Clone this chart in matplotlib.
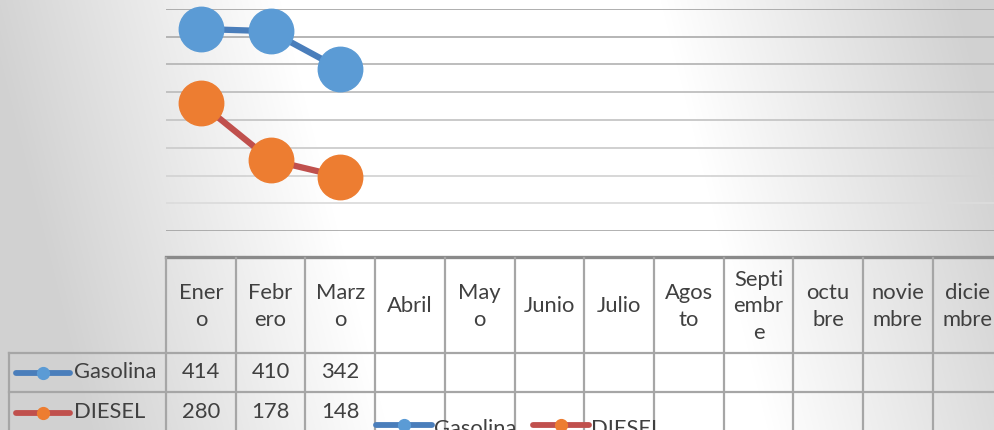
import numpy as np
import matplotlib
matplotlib.use("Agg")
import matplotlib.pyplot as plt

# ---------------- data ----------------
month_labels = ["Ener\no", "Febr\nero", "Marz\no", "Abril", "May\no", "Junio",
                "Julio", "Agos\nto", "Septi\nembr\ne", "octu\nbre", "novie\nmbre", "dicie\nmbre"]
series_names = ["Gasolina", "DIESEL"]
gasolina = [414, 410, 342]
diesel = [280, 178, 148]
y_ticks = [50, 100, 150, 200, 250, 300, 350, 400, 450]

W, H = 994, 430
DPI = 100
plt.rcParams['font.family'] = ['Lato', 'DejaVu Sans']
TXT = '#404040'
FS = 15.8

fig = plt.figure(figsize=(W / DPI, H / DPI), dpi=DPI)

# ---------------- background gradient ----------------
bg = fig.add_axes([0, 0, 1, 1], zorder=-5)
yy, xx = np.mgrid[0:H, 0:W]
cx = 470 + 0.25 * yy
dist = np.clip((np.abs(xx - cx) - 190) / 300.0, 0, 1)
val = 1 - 0.18 * dist
img = np.dstack([val, val, val])
bg.imshow(img, extent=(0, W, H, 0), aspect='auto', interpolation='bilinear')
bg.set_xlim(0, W)
bg.set_ylim(H, 0)
bg.axis('off')

# ---------------- geometry (pixels) ----------------
x0 = 166.0
colw = 69.7
n = len(month_labels)
plot_top, plot_bot = 9.0, 231.0

ax = fig.add_axes([x0 / W, (H - plot_bot) / H, colw * n / W, (plot_bot - plot_top) / H])
ax.patch.set_alpha(0)
ax.set_xlim(-0.5, n - 0.5)
ax.set_ylim(y_ticks[0], y_ticks[-1])
ax.set_yticks(y_ticks)
ax.set_xticks([])
ax.tick_params(left=False, labelleft=False)
for s in ax.spines.values():
    s.set_visible(False)
ax.grid(axis='y', linewidth=1.3)
glines = ax.get_ygridlines()
cols = np.linspace(0.89, 0.66, len(glines))
for gl, c in zip(glines, cols):
    gl.set_color((c, c, c))
glines[0].set_color('#9a9a9a')
glines[0].set_linewidth(1.8)

xs = np.arange(len(gasolina))
ax.plot(xs, gasolina, color='#4a7ebb', lw=4.5, marker='o', ms=32,
        mfc='#5b9bd5', mec='#5b9bd5', clip_on=False, zorder=3)
ax.plot(np.arange(len(diesel)), diesel, color='#c0504d', lw=4.5, marker='o', ms=32,
        mfc='#ed7d31', mec='#ed7d31', clip_on=False, zorder=3)

# ---------------- data table (overlay in pixel coords) ----------------
ov = fig.add_axes([0, 0, 1, 1], zorder=2)
ov.patch.set_alpha(0)
ov.set_xlim(0, W)
ov.set_ylim(H, 0)
ov.axis('off')

LC = '#a6a6a6'
hdr_top, hdr_bot, row1_bot, row2_bot = 258.0, 353.0, 392.0, 440.0
lab_left = 9.0
x_right = x0 + colw * n

# legend box (semi-transparent) drawn before the grid lines
ov.add_patch(plt.Rectangle((375, 405), 295, 40, facecolor='white', alpha=0.45,
                           edgecolor='none', zorder=1))

ov.plot([x0, x_right], [hdr_top - 1, hdr_top - 1], color='#8a8a8a', lw=2.4, zorder=2)
for yl in (hdr_bot, row1_bot):
    ov.plot([lab_left, x_right], [yl, yl], color=LC, lw=1.6, zorder=2)
ov.plot([lab_left, lab_left], [hdr_bot, row2_bot], color=LC, lw=1.6, zorder=2)
for i in range(n + 1):
    xv = x0 + colw * i
    ov.plot([xv, xv], [hdr_top, row2_bot], color=LC, lw=1.6, zorder=2)

for i, lab in enumerate(month_labels):
    ov.text(x0 + colw * (i + 0.5), (hdr_top + hdr_bot) / 2 + 1, lab, ha='center', va='center',
            fontsize=FS, color=TXT, linespacing=1.38, zorder=3)

styles = [('#4a7ebb', '#5b9bd5'), ('#c0504d', '#ed7d31')]
row_centers = [(hdr_bot + row1_bot) / 2, (row1_bot + 431) / 2 + 1]
for (name, vals, (lc, mc), yc) in zip(series_names, [gasolina, diesel], styles, row_centers):
    ov.plot([16, 70], [yc, yc], color=lc, lw=4.2, solid_capstyle='round', zorder=3)
    ov.plot([43], [yc], 'o', ms=8.5, color=mc, zorder=4)
    ov.text(74, yc, name, ha='left', va='center', fontsize=FS, color=TXT, zorder=3)
    for i, v in enumerate(vals):
        ov.text(x0 + colw * (i + 0.5), yc, str(v), ha='center', va='center',
                fontsize=FS, color=TXT, zorder=3)

# ---------------- bottom legend ----------------
leg_y = 425
leg_items = [(376, series_names[0], styles[0]), (533, series_names[1], styles[1])]
for (lx, name, (lc, mc)) in leg_items:
    ov.plot([lx, lx + 56], [leg_y, leg_y], color=lc, lw=4.2, solid_capstyle='round', zorder=3)
    ov.plot([lx + 28], [leg_y], 'o', ms=8.5, color=mc, zorder=4)
    ov.text(lx + 58, leg_y + 4, name, ha='left', va='center', fontsize=FS, color=TXT, zorder=3)

fig.savefig('out.png', dpi=DPI)
